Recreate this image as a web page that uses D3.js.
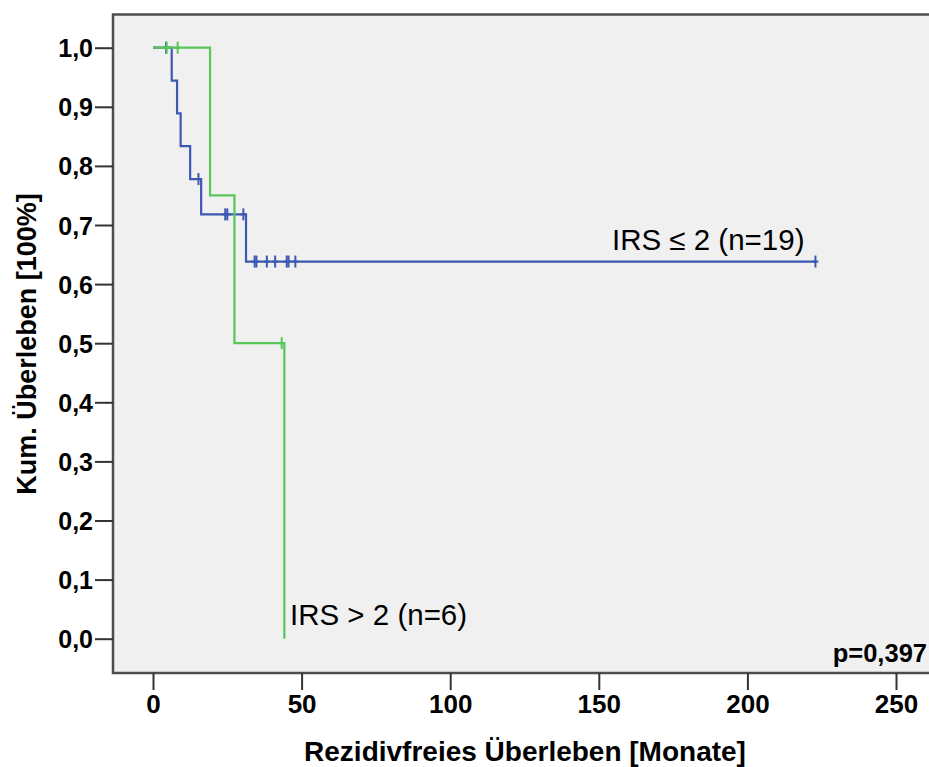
<!DOCTYPE html>
<html>
<head>
<meta charset="utf-8">
<script src="https://cdn.jsdelivr.net/npm/d3@7"></script>
<style>
  html, body { margin: 0; padding: 0; background: #ffffff; }
  svg { display: block; }
  text { font-family: "Liberation Sans", Arial, sans-serif; }
</style>
</head>
<body>
<svg id="chart" width="929" height="767"></svg>
<script>
// ---- Data ----
// Group IRS <= 2 (n=19): times in months, event 1 = relapse, 0 = censored
const blueTimes  = [4.4, 6.3, 8.1, 9.3, 12.5, 15.3, 16.2, 24.3, 25.0, 30.4, 31.3, 34.2, 34.8, 38.3, 41.1, 45.0, 45.6, 47.9, 222.9];
const blueEvents = [0,   1,   1,   1,   1,    0,    1,    0,    0,    0,    1,    0,    0,    0,    0,    0,    0,    0,    0];
// Group IRS > 2 (n=6)
const greenTimes  = [4.6, 8.3, 19.2, 27.4, 43.3, 44.2];
const greenEvents = [0,   0,   1,    1,    0,    1];

const seriesLabels = ["IRS \u2264 2 (n=19)", "IRS > 2 (n=6)"];
const xTicks = [0, 50, 100, 150, 200, 250];
const yTicks = [0, 0.1, 0.2, 0.3, 0.4, 0.5, 0.6, 0.7, 0.8, 0.9, 1.0];
const xTitle = "Rezidivfreies \u00dcberleben [Monate]";
const yTitle = "Kum. \u00dcberleben [100%]";
const pText = "p=0,397";

// ---- Kaplan-Meier estimate from the data ----
function km(times, events) {
  const idx = d3.range(times.length).sort((a, b) => times[a] - times[b]);
  let atRisk = times.length, s = 1;
  const steps = [{t: 0, s: 1}];
  const censors = [];
  idx.forEach(i => {
    if (events[i] === 1) { s = s * (atRisk - 1) / atRisk; steps.push({t: times[i], s: s}); }
    else censors.push({t: times[i], s: s});
    atRisk -= 1;
  });
  const tMax = d3.max(times);
  if (steps[steps.length - 1].t < tMax) steps.push({t: tMax, s: s});
  return {steps, censors};
}

const svg = d3.select("#chart");
const x = d3.scaleLinear().domain([0, 250]).range([153, 896]);
const y = d3.scaleLinear().domain([0, 1]).range([638.7, 47.7]);
const de = d3.formatLocale({decimal: ",", thousands: ".", grouping: [3], currency: ["", "€"]});
const fmtY = de.format(".1f");

const plotL = 113, plotT = 14.5, plotB = 673;

// plot frame
svg.append("rect")
  .attr("x", plotL).attr("y", plotT)
  .attr("width", 940 - plotL).attr("height", plotB - plotT)
  .attr("fill", "#f0f0f0").attr("stroke", "#4d4d4d").attr("stroke-width", 2.5);

// Y axis
const gy = svg.append("g").attr("transform", `translate(${plotL},0)`)
  .call(d3.axisLeft(y).tickValues(yTicks).tickFormat(fmtY).tickSizeInner(18).tickSizeOuter(0).tickPadding(2));
gy.select(".domain").remove();
gy.selectAll(".tick line").attr("stroke", "#333").attr("stroke-width", 2);
gy.selectAll(".tick text").attr("fill", "#000").style("font-size", "25px").style("font-weight", "bold")
  .style("font-family", "'Liberation Sans', Arial, sans-serif").attr("dy", "0.36em");

// X axis
const gx = svg.append("g").attr("transform", `translate(0,${plotB})`)
  .call(d3.axisBottom(x).tickValues(xTicks).tickSizeInner(17).tickSizeOuter(0).tickPadding(5));
gx.select(".domain").remove();
gx.selectAll(".tick line").attr("stroke", "#333").attr("stroke-width", 2);
gx.selectAll(".tick text").attr("fill", "#000").style("font-size", "26px").style("font-weight", "bold")
  .style("font-family", "'Liberation Sans', Arial, sans-serif");

// Axis titles
svg.append("text").attr("x", 525).attr("y", 761)
  .attr("text-anchor", "middle").style("font-size", "28px").style("font-weight", "bold")
  .text(xTitle);
svg.append("text").attr("transform", "translate(36,344) rotate(-90)")
  .attr("text-anchor", "middle").style("font-size", "27px").style("font-weight", "bold")
  .text(yTitle);

// Curves
const line = d3.line().x(d => x(d.t)).y(d => y(d.s)).curve(d3.curveStepAfter);
const groups = [
  {data: km(blueTimes, blueEvents), color: "#3d58b3"},
  {data: km(greenTimes, greenEvents), color: "#58c658"}
];
groups.forEach(g => {
  svg.append("path").datum(g.data.steps).attr("d", line)
    .attr("fill", "none").attr("stroke", g.color).attr("stroke-width", 2.2);
  svg.append("g").selectAll("line").data(g.data.censors).join("line")
    .attr("x1", d => x(d.t)).attr("x2", d => x(d.t))
    .attr("y1", d => y(d.s) - 6).attr("y2", d => y(d.s) + 6)
    .attr("stroke", g.color).attr("stroke-width", 2);
  svg.append("g").selectAll("line").data(g.data.censors).join("line")
    .attr("x1", d => x(d.t) - 3).attr("x2", d => x(d.t) + 3)
    .attr("y1", d => y(d.s)).attr("y2", d => y(d.s))
    .attr("stroke", g.color).attr("stroke-width", 2);
});

// Group labels
svg.append("text").attr("x", 612).attr("y", 250).style("font-size", "29.5px").attr("fill", "#000")
  .text(seriesLabels[0]);
svg.append("text").attr("x", 290).attr("y", 625).style("font-size", "29.5px").attr("fill", "#000")
  .text(seriesLabels[1]);

// p-value
svg.append("text").attr("x", 927).attr("y", 662).attr("text-anchor", "end")
  .style("font-size", "25.5px").style("font-weight", "bold").attr("fill", "#000")
  .text(pText);
</script>
</body>
</html>
